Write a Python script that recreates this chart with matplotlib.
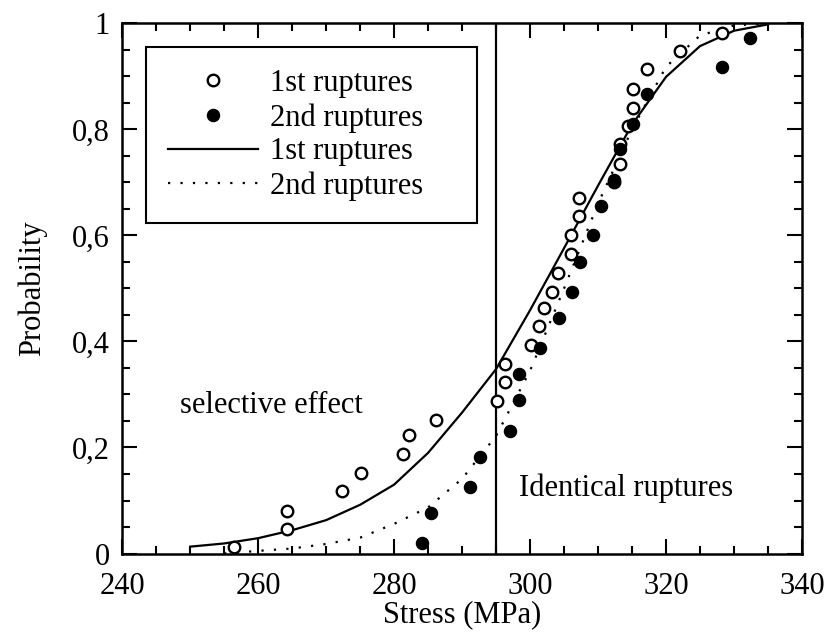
import matplotlib
matplotlib.use("Agg")
import matplotlib.pyplot as plt
from matplotlib.ticker import MultipleLocator, FixedLocator, FixedFormatter

plt.rcParams['font.family'] = ['Liberation Serif', 'DejaVu Serif']

# Data: 1st ruptures (open circles)
x1 = [256.4, 264.2, 264.2, 272.4, 275.1, 281.3, 282.2, 286.2, 295.1, 296.3, 296.3,
      300.2, 301.3, 302.1, 303.2, 304.1, 306.0, 306.0, 307.2, 307.2, 312.4, 313.2,
      313.2, 314.4, 315.1, 315.1, 317.2, 322.1, 328.2]
y1 = [0.012, 0.047, 0.081, 0.117, 0.151, 0.187, 0.223, 0.252, 0.287, 0.323, 0.358,
      0.394, 0.429, 0.464, 0.494, 0.530, 0.565, 0.600, 0.636, 0.671, 0.700, 0.735,
      0.772, 0.806, 0.841, 0.877, 0.913, 0.947, 0.982]

# Data: 2nd ruptures (filled circles)
x2 = [284.1, 285.4, 291.2, 292.6, 297.0, 298.3, 298.3, 301.5, 304.2, 306.1, 307.3,
      309.2, 310.4, 312.4, 313.3, 315.1, 317.2, 328.2, 332.4]
y2 = [0.020, 0.076, 0.126, 0.182, 0.232, 0.289, 0.339, 0.388, 0.444, 0.494, 0.550,
      0.600, 0.655, 0.705, 0.762, 0.811, 0.866, 0.918, 0.973]

# Fitted curves
cx1 = [250, 255, 260, 265, 270, 275, 280, 285, 290, 295, 300, 305, 310, 315, 320, 325, 330, 335]
cy1 = [0.013, 0.019, 0.029, 0.044, 0.063, 0.092, 0.130, 0.190, 0.266, 0.348, 0.459,
       0.576, 0.694, 0.809, 0.899, 0.957, 0.986, 0.998]
cx2 = [255, 260, 265, 270, 275, 280, 285, 290, 295, 300, 305, 310, 315, 320, 325, 330, 335]
cy2 = [0.0, 0.005, 0.0095, 0.018, 0.030, 0.056, 0.087, 0.141, 0.222, 0.345, 0.500,
       0.660, 0.800, 0.918, 0.977, 0.996, 1.0]

xticks = [240, 260, 280, 300, 320, 340]
yticks = [0, 0.2, 0.4, 0.6, 0.8, 1.0]
ytick_labels = ['0', '0,2', '0,4', '0,6', '0,8', '1']

fig = plt.figure(figsize=(8.29, 6.35), dpi=100)
ax = fig.add_axes([0.1475, 0.1283, 0.8199, 0.8350])

ax.plot(x1, y1, linestyle='none', marker='o', markersize=8.3, markerfacecolor='white',
        markeredgecolor='black', markeredgewidth=1.7, label='1st ruptures', zorder=4)
ax.plot(x2, y2, linestyle='none', marker='o', markersize=8.7, markerfacecolor='black',
        markeredgecolor='black', label='2nd ruptures', zorder=5)
ax.plot(cx1, cy1, color='black', lw=1.6, label='1st ruptures', zorder=3)
ax.plot(cx2, cy2, color='black', lw=1.6, linestyle=(0, (1, 4.6)), label='2nd ruptures', zorder=3)

ax.axvline(295, color='black', lw=1.6, zorder=2)

ax.text(248.5, 0.279, 'selective effect', fontsize=22, va='center', ha='left')
ax.text(298.4, 0.123, 'Identical ruptures', fontsize=22, va='center', ha='left')

ax.set_xlim(240, 340)
ax.set_ylim(0, 1)
ax.xaxis.set_major_locator(FixedLocator(xticks))
ax.xaxis.set_minor_locator(MultipleLocator(5))
ax.yaxis.set_major_locator(FixedLocator(yticks))
ax.yaxis.set_major_formatter(FixedFormatter(ytick_labels))
ax.yaxis.set_minor_locator(MultipleLocator(0.05))
ax.tick_params(which='both', direction='in', top=True, right=True, width=1.5, labelsize=22)
ax.tick_params(which='major', length=11)
ax.tick_params(which='minor', length=5.5)
ax.tick_params(axis='x', which='major', pad=13)
ax.tick_params(axis='y', which='major', pad=9)
for s in ax.spines.values():
    s.set_linewidth(1.8)

ax.set_xlabel('Stress (MPa)', fontsize=22, labelpad=0)
ax.set_ylabel('Probability', fontsize=22, labelpad=18)

leg = ax.legend(loc='upper left', bbox_to_anchor=(0.0349, 0.6347, 0.487, 0.3203),
                mode='expand', fontsize=22,
                frameon=True, fancybox=False, edgecolor='black', framealpha=1,
                handlelength=2.95, handletextpad=0.4, labelspacing=0.16,
                borderpad=0.72, borderaxespad=0)
leg.get_frame().set_linewidth(1.5)

fig.savefig('out.png', dpi=100)
